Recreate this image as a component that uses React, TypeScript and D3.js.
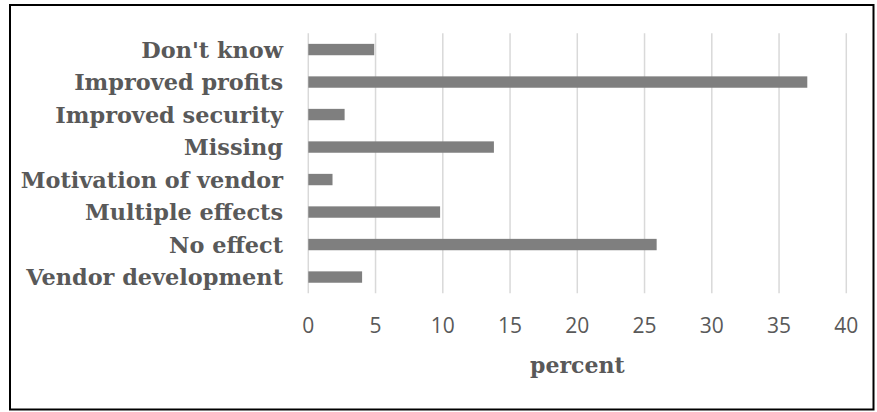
import React from "react";
import * as d3 from "d3";

// Survey responses: share of respondents (percent) per reported effect
const categories: string[] = [
  "Don't know",
  "Improved profits",
  "Improved security",
  "Missing",
  "Motivation of vendor",
  "Multiple effects",
  "No effect",
  "Vendor development",
];
const percents: number[] = [4.9, 37.1, 2.7, 13.8, 1.8, 9.8, 25.9, 4.0];
const xTicks: number[] = [0, 5, 10, 15, 20, 25, 30, 35, 40];
const xTitle = "percent";

const W = 877;
const H = 412;
const plotLeft = 308.3;
const plotRight = 846.3;
const plotTop = 33.3;
const plotBottom = 293.3;

const TEXT = "#595959";
const BAR = "#7f7f7f";
const GRID = "#d9d9d9";
const SERIF = "'DejaVu Serif', serif";
const SANS = "'Open Sans', sans-serif";

export default function App() {
  const x = d3.scaleLinear().domain([0, 40]).range([plotLeft, plotRight]);
  const y = d3
    .scaleBand<string>()
    .domain(categories)
    .range([plotTop, plotBottom])
    .paddingInner(0.65)
    .paddingOuter(0.325);

  return (
    <svg
      width={W}
      height={H}
      style={{ position: "absolute", left: 0, top: 0, background: "#fff" }}
    >
      <rect x={0} y={0} width={W} height={H} fill="#fff" />
      {/* frame */}
      <rect
        x={10}
        y={5}
        width={863.5}
        height={404.5}
        fill="none"
        stroke="#000"
        strokeWidth={2}
      />
      {/* vertical gridlines */}
      {xTicks.map((t) => (
        <line
          key={`g${t}`}
          x1={x(t)}
          x2={x(t)}
          y1={plotTop}
          y2={plotBottom}
          stroke={GRID}
          strokeWidth={1.5}
        />
      ))}
      {/* bars */}
      {categories.map((c, i) => (
        <rect
          key={c}
          x={x(0)}
          y={y(c)!}
          width={x(percents[i]) - x(0)}
          height={y.bandwidth()}
          fill={BAR}
        />
      ))}
      {/* category labels */}
      {categories.map((c) => (
        <text
          key={`l${c}`}
          x={283}
          y={y(c)! + y.bandwidth() / 2}
          dy="0.36em"
          textAnchor="end"
          fontFamily={SERIF}
          fontWeight="bold"
          fontSize={22.4}
          fill={TEXT}
        >
          {c}
        </text>
      ))}
      {/* tick labels */}
      {xTicks.map((t) => (
        <text
          key={`t${t}`}
          x={x(t)}
          y={332.7}
          textAnchor="middle"
          fontFamily={SANS}
          fontSize={21}
          fill={TEXT}
        >
          {t}
        </text>
      ))}
      {/* axis title */}
      <text
        x={x(20)}
        y={372.5}
        textAnchor="middle"
        fontFamily={SERIF}
        fontWeight="bold"
        fontSize={22}
        fill={TEXT}
      >
        {xTitle}
      </text>
    </svg>
  );
}
